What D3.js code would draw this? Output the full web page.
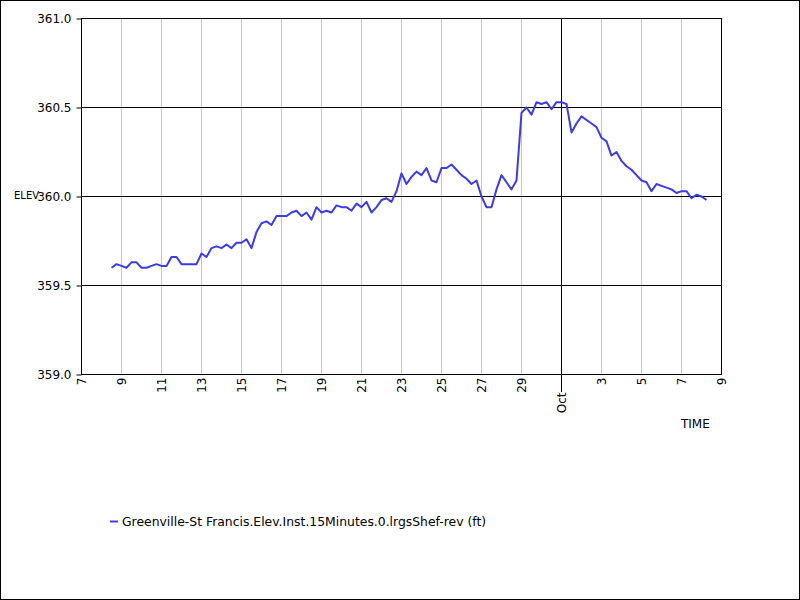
<!DOCTYPE html>
<html>
<head>
<meta charset="utf-8">
<script src="https://cdn.jsdelivr.net/npm/d3@7"></script>
<style>
  body { margin: 0; background: #fff; }
  text { font-family: "DejaVu Sans", sans-serif; }
</style>
</head>
<body>
<div id="chart"></div>
<script>
// Elevation series, one reading every 6 hours starting Sep 8 12:00
const startTime = Date.UTC(2019, 8, 8, 12);
const stepHours = 6;
const elevValues = [
  359.60, 359.62, 359.61, 359.60, 359.63, 359.63, 359.60, 359.60, 359.61, 359.62,
  359.61, 359.61, 359.66, 359.66, 359.62, 359.62, 359.62, 359.62, 359.68, 359.66,
  359.71, 359.72, 359.71, 359.73, 359.71, 359.74, 359.74, 359.76, 359.71, 359.80,
  359.85, 359.86, 359.84, 359.89, 359.89, 359.89, 359.91, 359.92, 359.89, 359.91,
  359.87, 359.94, 359.91, 359.92, 359.91, 359.95, 359.94, 359.94, 359.92, 359.96,
  359.94, 359.97, 359.91, 359.94, 359.98, 359.99, 359.97, 360.03, 360.13, 360.07,
  360.11, 360.14, 360.12, 360.16, 360.09, 360.08, 360.16, 360.16, 360.18, 360.15,
  360.12, 360.10, 360.07, 360.09, 360.00, 359.94, 359.94, 360.04, 360.12, 360.08,
  360.04, 360.09, 360.47, 360.50, 360.46, 360.53, 360.52, 360.53, 360.49, 360.53,
  360.53, 360.52, 360.36, 360.41, 360.45, 360.43, 360.41, 360.39, 360.33, 360.31,
  360.23, 360.25, 360.20, 360.17, 360.15, 360.12, 360.09, 360.08, 360.03, 360.07,
  360.06, 360.05, 360.04, 360.02, 360.03, 360.03, 359.99, 360.01, 360.00, 359.98
];
const yTicks = [359.0, 359.5, 360.0, 360.5, 361.0];
const timeDomain = [new Date(Date.UTC(2019, 8, 7)), new Date(Date.UTC(2019, 9, 9))];
const seriesName = "Greenville-St Francis.Elev.Inst.15Minutes.0.lrgsShef-rev (ft)";
const yLabel = "ELEV";
const xLabel = "TIME";

const lineColor = "#3c3ce6";

const data = elevValues.map((v, i) => ({
  time: new Date(startTime + i * stepHours * 3600 * 1000),
  elev: v
}));

const svg = d3.select("#chart").append("svg")
  .attr("width", 800)
  .attr("height", 600);

// ramka całego obrazka
svg.append("rect")
  .attr("x", 0.5).attr("y", 0.5)
  .attr("width", 799).attr("height", 599)
  .attr("fill", "#fff")
  .attr("stroke", "#000");

const x = d3.scaleUtc()
  .domain(timeDomain)
  .range([81.5, 721.5]);

const y = d3.scaleLinear()
  .domain([359, 361])
  .range([374.5, 18.5]);

const xTickValues = d3.utcDay.every(2).range(timeDomain[0], d3.utcDay.offset(timeDomain[1], 1));
const isMonthStart = d => d.getUTCDate() === 1;

// siatka pionowa
svg.append("g")
  .selectAll("line")
  .data(xTickValues)
  .enter().append("line")
    .attr("x1", d => x(d)).attr("x2", d => x(d))
    .attr("y1", y(361)).attr("y2", d => isMonthStart(d) ? 392 : y(359))
    .attr("stroke", d => isMonthStart(d) ? "#000" : "#c4c4c4")
    .attr("stroke-width", 1);

// siatka pozioma
svg.append("g")
  .selectAll("line")
  .data(yTicks)
  .enter().append("line")
    .attr("x1", x(timeDomain[0])).attr("x2", x(timeDomain[1]))
    .attr("y1", d => y(d)).attr("y2", d => y(d))
    .attr("stroke", "#000");

// ramka wykresu
svg.append("rect")
  .attr("x", x(timeDomain[0])).attr("y", y(361))
  .attr("width", x(timeDomain[1]) - x(timeDomain[0]))
  .attr("height", y(359) - y(361))
  .attr("fill", "none")
  .attr("stroke", "#000");

// oś Y
const yAxis = svg.append("g")
  .attr("transform", `translate(${x(timeDomain[0])},0)`)
  .call(d3.axisLeft(y).tickValues(yTicks).tickFormat(d3.format(".1f")).tickSize(5).tickPadding(5));
yAxis.select(".domain").remove();
yAxis.selectAll("line").attr("stroke", "#000");
yAxis.selectAll("text").attr("fill", "#000").style("font-size", "12px");

// oś X, etykiety obrócone
const xAxis = svg.append("g")
  .attr("transform", `translate(0,${y(359)})`)
  .call(d3.axisBottom(x).tickValues(xTickValues)
    .tickFormat(d => isMonthStart(d) ? d3.utcFormat("%b")(d) : d.getUTCDate())
    .tickSize(0));
xAxis.select(".domain").remove();
xAxis.selectAll("text")
  .attr("fill", "#000")
  .style("font-size", "12px")
  .attr("text-anchor", "end")
  .attr("transform", "rotate(-90)")
  .attr("x", d => isMonthStart(d) ? -18 : -3)
  .attr("y", 0)
  .attr("dy", "0.35em");

// linia poziomu wody
const line = d3.line()
  .x(d => x(d.time))
  .y(d => y(d.elev));

svg.append("path")
  .datum(data)
  .attr("fill", "none")
  .attr("stroke", lineColor)
  .attr("stroke-width", 2)
  .attr("stroke-linejoin", "round")
  .attr("d", line);

// opisy osi
svg.append("text")
  .attr("x", 14).attr("y", 195)
  .attr("dy", "0.35em")
  .style("font-size", "10px")
  .text(yLabel);

svg.append("text")
  .attr("x", 681).attr("y", 428)
  .style("font-size", "12px")
  .text(xLabel);

// legenda
svg.append("line")
  .attr("x1", 110).attr("x2", 118)
  .attr("y1", 521.5).attr("y2", 521.5)
  .attr("stroke", lineColor)
  .attr("stroke-width", 2);

svg.append("text")
  .attr("x", 122).attr("y", 521.5)
  .attr("dy", "0.35em")
  .style("font-size", "12.4px")
  .text(seriesName);
</script>
</body>
</html>
